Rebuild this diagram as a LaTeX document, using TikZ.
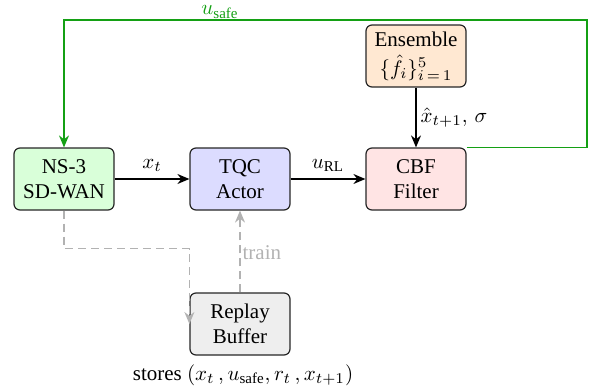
\RequirePackage{fix-cm}
\documentclass[tikz,border=0pt]{standalone}
\usepackage{fontspec}
\setmainfont{Liberation Serif}
\DeclareMathSizes{10.5}{10.5}{7.5}{5.5}
\usetikzlibrary{arrows.meta}
\definecolor{netgreen}{RGB}{217,255,217}
\definecolor{actblue}{RGB}{220,220,255}
\definecolor{cbfred}{RGB}{255,228,228}
\definecolor{ensorange}{RGB}{255,232,210}
\definecolor{bufgray}{RGB}{238,238,238}
\definecolor{safegreen}{RGB}{20,160,20}
\definecolor{traingray}{RGB}{178,178,178}
\tikzset{
  every node/.style={font=\fontsize{10.5}{12.5}\selectfont},
  block/.style={draw=black!85, line width=0.6pt, rounded corners=3pt, align=center,
    minimum width=50pt, minimum height=31pt, inner sep=1pt},
  flow/.style={-{Stealth[length=6pt,width=5pt]}, line width=0.65pt, black},
  safeflow/.style={-{Stealth[length=6pt,width=5pt]}, line width=0.65pt, safegreen},
  trainflow/.style={-{Stealth[length=6pt,width=5pt]}, line width=0.65pt, traingray, dash pattern=on 4pt off 2.5pt},
}
\begin{document}
\begin{tikzpicture}[x=0.5pt, y=-0.5pt]
  \useasboundingbox (0,0) rectangle (593,391);
  \node[block, fill=netgreen]  (ns3)    at (64,179)  {NS-3\\SD-WAN};
  \node[block, fill=actblue]   (actor)  at (240,179) {TQC\\Actor};
  \node[block, fill=cbfred]    (cbf)    at (416,179) {CBF\\Filter};
  \node[block, fill=ensorange] (ens)    at (416,56)  {Ensemble\\[2pt]$\{\hat{f}_i\}_{i\,=\,1}^{5}$};
  \node[block, fill=bufgray]   (replay) at (240,324) {Replay\\Buffer};
  \node (stores) at (243,375) {stores $(x_t\,, u_{\mathrm{safe}}, r_t\,, x_{t+1})$};

  \coordinate (corner) at (587,20);

  \draw[flow] (ns3) -- node[above] {$x_t$} (actor);
  \draw[flow] (actor) -- node[above] {$u_{\mathrm{RL}}$} (cbf);
  \draw[flow] (ens) -- node[right, inner sep=2pt] {$\hat{x}_{t+1},\,\sigma$} (cbf);

  \draw[safeflow] (cbf.north east) -| (corner) -| (ns3.north);
  \node[text=safegreen, inner sep=1pt] (ulabel) at (220,12) {$u_{\mathrm{safe}}$};

  \draw[trainflow] (ns3.south) -- ++(0,38) -| (replay.west);
  \draw[trainflow] (replay) -- node[right, pos=0.48, text=traingray, inner sep=1pt] {train} (actor);
\end{tikzpicture}
\end{document}
